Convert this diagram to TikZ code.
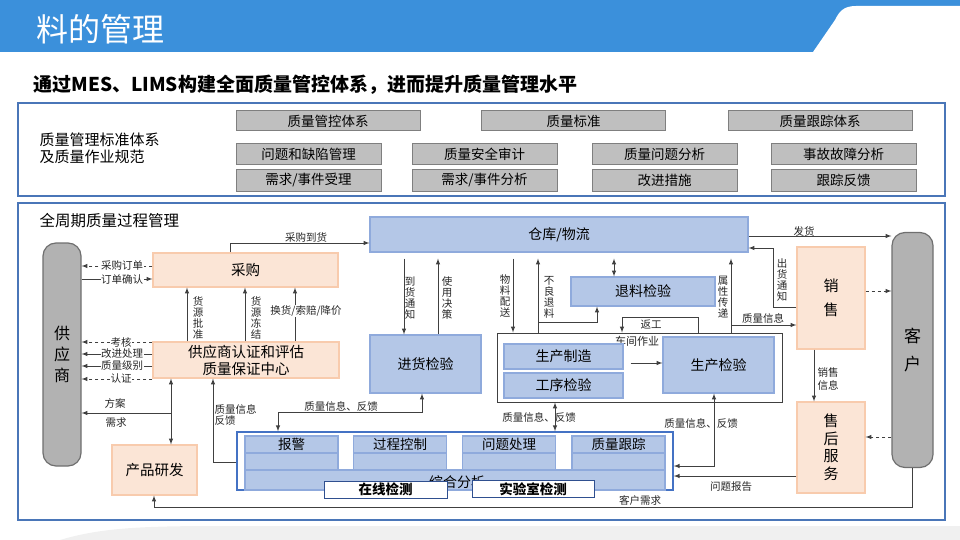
\documentclass[tikz,border=0pt]{standalone}
\usepackage{fontspec}
\setmainfont{Noto Sans CJK SC}
\usepackage{tikz}
\usetikzlibrary{arrows}

\definecolor{bandblue}{HTML}{3B90DB}
\definecolor{framecol}{HTML}{4A76B8}
\definecolor{sysline}{HTML}{4472C4}
\definecolor{peachfill}{HTML}{FBE5D6}
\definecolor{peachline}{HTML}{F8CBAD}
\definecolor{bluefill}{HTML}{B4C7E7}
\definecolor{blueline}{HTML}{8FAADC}
\definecolor{grayfill}{HTML}{BFBFBF}
\definecolor{grayline}{HTML}{7F7F7F}
\definecolor{podfill}{HTML}{B2B2B2}
\definecolor{podline}{HTML}{6F6F6F}
\definecolor{wirecol}{HTML}{404040}
\definecolor{navyline}{HTML}{2F4F8F}

\begin{document}
\begin{tikzpicture}[x=1pt, y=-1pt]

	\tikzstyle outer frame=[draw=framecol, line width=1.5pt];
	\tikzstyle gray box=[draw=grayline, fill=grayfill, line width=1pt, inner sep=0pt, font=\fontsize{13.5}{14}\selectfont];
	\tikzstyle peach box=[draw=peachline, fill=peachfill, line width=1.2pt, inner sep=0pt, align=center, font=\fontsize{14.5}{17}\selectfont];
	\tikzstyle blue box=[draw=blueline, fill=bluefill, line width=1.2pt, inner sep=0pt, align=center, font=\fontsize{14}{17}\selectfont];
	\tikzstyle white box=[draw=navyline, fill=white, line width=1pt, inner sep=0pt, minimum height=17pt, font=\bfseries\fontsize{13.5}{14}\selectfont];
	\tikzstyle pod=[draw=podline, fill=podfill, line width=1.2pt, rounded corners=13pt, inner sep=0pt, align=center];
	\tikzstyle flow=[draw=wirecol, line width=1pt, -latex];
	\tikzstyle lbl=[inner sep=0.5pt, text=black!85, font=\fontsize{10.5}{11.5}\selectfont];
	\tikzstyle vlbl=[lbl, align=center, font=\fontsize{10.5}{11}\selectfont];

	\useasboundingbox (0,0) rectangle (960,540);

	% header band
	\fill[bandblue] (0,0) rectangle (960,52);
	\fill[white] (960,6) -- (856,6) .. controls (843,6) and (839,12) .. (835,20) -- (813,52) -- (960,52) -- cycle;
	\fill[black!6] (60,540) .. controls (100,528) and (140,526) .. (220,526) -- (960,526) -- (960,540) -- cycle;
	\node[anchor=west, text=white, font=\fontsize{32}{33}\selectfont] (title) at (33,29) {料的管理};
	\node[anchor=west, font=\bfseries\fontsize{19}{20}\selectfont] (subtitle) at (30,85) {通过MES、LIMS构建全面质量管控体系，进而提升质量管理水平};

	% standards
	\draw[outer frame] (18,103) rectangle (945,196);
	\node[anchor=west, align=left, font=\fontsize{15}{17}\selectfont] (std) at (36,148.5) {质量管理标准体系\\及质量作业规范};
	\foreach \x/\y/\w/\h/\name/\txt in {328/121/184/20/gka/质量管控体系, 573.5/121/184/20/gkb/质量标准, 820/121/184/20/gkc/质量跟踪体系,
			308.5/154.5/145/21/wta/问题和缺陷管理, 484.5/154.5/145/21/wtb/质量安全审计, 664.5/154.5/145/21/wtc/质量问题分析, 843.5/154.5/145/21/wtd/事故故障分析,
			308.5/180.5/145/21/xqa/{需求/事件受理}, 484.5/180.5/145/21/xqb/{需求/事件分析}, 664.5/180.5/145/21/xqc/改进措施, 843.5/180.5/145/21/xqd/跟踪反馈}
		\node[gray box, minimum width=\w pt, minimum height=\h pt] (\name) at (\x,\y) {\txt};

	% process
	\draw[outer frame] (18,203) rectangle (945,520);
	\node[anchor=west, font=\fontsize{15.5}{17}\selectfont] (qzq) at (36,221) {全周期质量过程管理};

	\node[pod, minimum width=38pt, minimum height=223pt, font=\fontsize{16}{21}\selectfont] (gys) at (62,354.5) {供\\应\\商};
	\node[pod, minimum width=41pt, minimum height=235pt, font=\fontsize{17}{28}\selectfont] (kh) at (912.5,350) {客\\户};

	\node[peach box, minimum width=185pt, minimum height=34pt] (cg) at (245.5,270) {采购};
	\node[peach box, minimum width=186pt, minimum height=36pt] (rz) at (246,360) {供应商认证和评估\\质量保证中心};
	\node[peach box, minimum width=85pt, minimum height=50pt] (yf) at (154.5,470) {产品研发};
	\node[peach box, minimum width=68pt, minimum height=102pt, font=\fontsize{15}{24}\selectfont] (xs) at (831,298) {销\\售};
	\node[peach box, minimum width=68pt, minimum height=91pt, font=\fontsize{15}{17.5}\selectfont] (sh) at (831,447.5) {售\\后\\服\\务};

	\node[blue box, minimum width=378pt, minimum height=35pt] (ck) at (559,234.5) {仓库/物流};
	\node[blue box, minimum width=111pt, minimum height=58pt] (jh) at (425.5,364) {进货检验};
	\node[blue box, minimum width=144pt, minimum height=29pt] (tl) at (643,291.5) {退料检验};
	\node[draw=wirecol, line width=1pt, fill=white, minimum width=285pt, minimum height=69pt] (cj) at (639.5,367.5) {};
	\node[lbl, font=\fontsize{11}{12}\selectfont] (cjzy) at (637,341) {车间作业};
	\node[blue box, minimum width=119pt, minimum height=25pt] (sz) at (563.5,356.5) {生产制造};
	\node[blue box, minimum width=119pt, minimum height=25pt] (gx) at (563.5,385.5) {工序检验};
	\node[blue box, minimum width=111pt, minimum height=56pt] (sj) at (718.5,365) {生产检验};

	% system
	\node[draw=sysline, line width=1.5pt, fill=white, minimum width=436pt, minimum height=58pt] (sys) at (455,461) {};
	\node[blue box, minimum width=420pt, minimum height=20pt] (zh) at (455,480) {};
	\foreach \x/\name/\txt in {291.5/bj/报警, 400/gc/过程控制, 509/wc/问题处理, 618.5/gz/质量跟踪} {
		\node[blue box, minimum width=93pt, minimum height=17pt, font=\fontsize{13.5}{14}\selectfont] (\name) at (\x,444.5) {\txt};
		\node[blue box, minimum width=93pt, minimum height=17pt] (\name b) at (\x,461.5) {};
	}
	\node[font=\fontsize{14}{15}\selectfont] (zhfx) at (457,482) {综合分析};
	\node[white box, minimum width=123pt] (zx) at (385.5,489.5) {在线检测};
	\node[white box, minimum width=122pt] (sy) at (533,489) {实验室检测};

	% connectors
	\coordinate (fa) at (171,413);
	\coordinate (bl) at (538,322);
	\coordinate (zx1) at (731,325);

	\draw[flow] (cg.north -| 230,0) |- (ck.west |- 0,243);
	\draw[flow, dashed] (cg.west |- 0,266) -- (gys.east |- 0,266);
	\draw[flow] (gys.east |- 0,279) -- (cg.west |- 0,279);
	\foreach \y/\sty in {342/dashed, 354/solid, 366/solid, 379/dashed}
		\draw[flow, \sty] (rz.west |- 0,\y) -- (gys.east |- 0,\y);
	\foreach \x in {187,245,295}
		\draw[flow] (rz.north -| \x,0) -- (cg.south -| \x,0);
	\draw[flow, latex-latex] (rz.south -| fa) -- (yf.north -| fa);
	\draw[flow] (fa) -- (gys.east |- fa);
	\draw[flow] (sys.west |- 0,462) -| (rz.south -| 213,0);
	\draw[flow, latex-latex] (jh.south -| 422,0) |- (278,412) -- (sys.north -| 278,0);
	\draw[flow, latex-latex] (cj.south -| 555,0) -- (sys.north -| 555,0);
	\draw[flow, latex-latex] (sj.south -| 714,0) |- (sys.east |- 0,466);
	\draw[flow] (sh.west |- 0,476) -- (sys.east |- 0,476);
	\draw[flow] (kh.south) |- (154,507) -- (yf.south -| 154,0);

	\draw[flow, shorten <=6pt] (ck.south -| 404,0) -- (jh.north -| 404,0);
	\draw[flow, shorten >=6pt] (jh.north -| 438,0) -- (ck.south -| 438,0);
	\draw[flow, shorten <=6pt] (ck.south -| 513,0) -- (cj.north -| 513,0);
	\draw[flow, shorten >=6pt] (cj.north -| bl) -- (ck.south -| bl);
	\draw[flow] (bl) -| (tl.south -| 597,0);
	\draw[flow, latex-latex, shorten <=6pt] (ck.south -| 614,0) -- (tl.north -| 614,0);
	\draw[flow] (cj.north -| 698,0) |- (622,317) -- (cj.north -| 622,0);
	\draw[flow, shorten >=6pt] (cj.north -| zx1) -- (ck.south -| zx1);
	\draw[flow] (zx1) -- (xs.west |- zx1);
	\draw[flow, shorten <=7pt] (sz.east |- 0,363) -- (sj.west |- 0,363);

	\draw[flow] (ck.east |- 0,236) -- (kh.west |- 0,236);
	\draw[flow] (xs.west |- 0,307) -| (773,248) -- (ck.east |- 0,248);
	\draw[flow, dashed] (xs.east |- 0,291) -- (kh.west |- 0,291);
	\draw[flow, dashed] (kh.west |- 0,437) -- (sh.east |- 0,437);
	\draw[flow] (xs.south -| 814,0) -- (sh.north -| 814,0);

	% labels
	\foreach \x/\y/\name/\txt in {122/266/lcgdd/采购订单, 122/279/lddqr/订单确认, 121/342/lkh/考核, 122/354/lgjcl/改进处理, 122/366/lzljb/质量级别, 121/379/lrz/认证,
			306/311/lhh/{换货/索赔/降价}}
		\node[lbl, fill=white] (\name) at (\x,\y) {\txt};
	\foreach \x/\y/\name/\txt in {306/237/lcgdh/采购到货, 115/403/lfa/方案, 116/423/lxq/需求, 341/406/lzla/质量信息、反馈, 539/417/lzlb/质量信息、反馈,
			701/423/lzlc/质量信息、反馈, 731/487/lwtbg/问题报告, 640/500/lkhxq/客户需求, 651/325/lfg/返工, 763/318/lzlxx/质量信息, 804/231/lfh/发货}
		\node[lbl] (\name) at (\x,\y) {\txt};
	\node[lbl, align=left, anchor=west] (lzlfk) at (214,415) {质量信息\\反馈};
	\foreach \x/\y/\name/\txt in {198/318/lhypz/货\\源\\批\\准, 256/318/lhydj/货\\源\\冻\\结, 410/298/ldhtz/到\\货\\通\\知, 447/298/lsyjc/使\\用\\决\\策,
			505/296/lwlps/物\\料\\配\\送, 549/297/lblth/不\\良\\退\\料, 723/297/lsxcd/属\\性\\传\\递, 782/280/lchtz/出\\货\\通\\知}
		\node[vlbl] (\name) at (\x,\y) {\txt};
	\node[lbl, align=center, font=\fontsize{10.5}{13.5}\selectfont] (lxsxx) at (828,379) {销售\\信息};

\end{tikzpicture}
\end{document}
